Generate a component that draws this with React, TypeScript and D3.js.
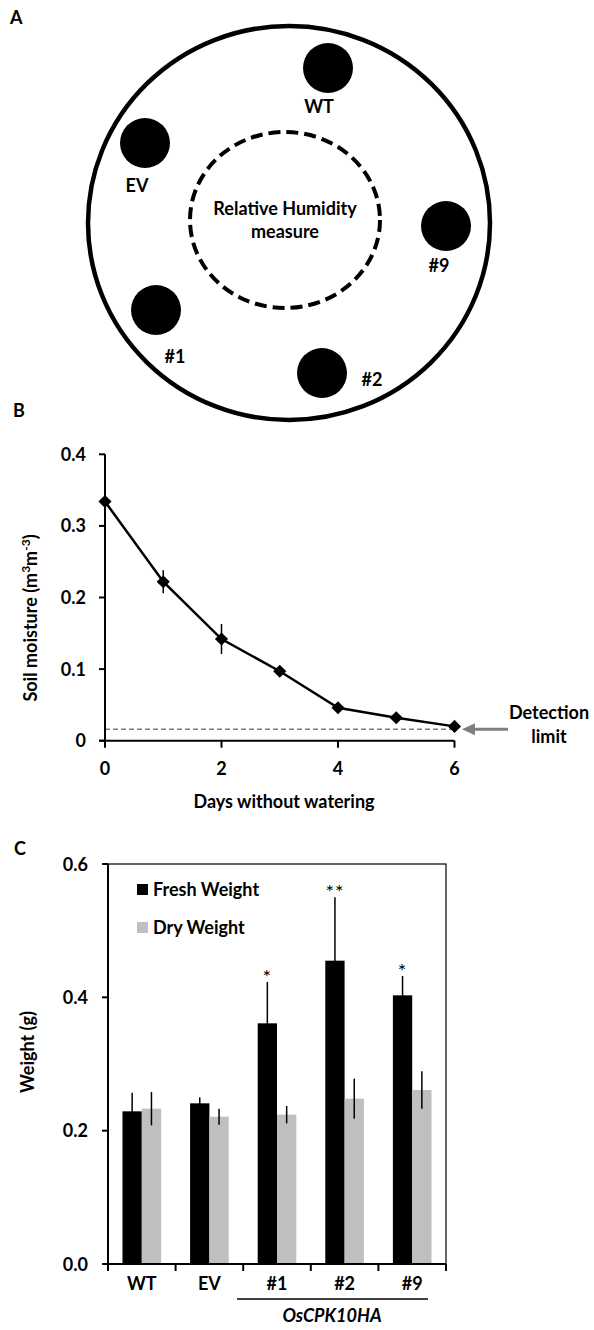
import * as d3 from 'd3';

// Panel A layout (positions of pots around the chamber)
const potLabels = ['WT', 'EV', '#9', '#1', '#2'];
const potX = [328, 145, 446, 156, 322];
const potY = [68, 143, 226, 310, 373];
const potLabelX = [319, 137, 439, 175, 372];
const potLabelY = [113, 192, 272, 363, 386];

// Panel B data
const days = [0, 1, 2, 3, 4, 5, 6];
const moisture = [0.334, 0.222, 0.142, 0.097, 0.046, 0.032, 0.020];
const moistureErr = [0.004, 0.016, 0.021, 0.004, 0.003, 0.002, 0.002];
const detectionLimit = 0.016;
const dayTicks = [0, 2, 4, 6];
const moistureTicks = [0, 0.1, 0.2, 0.3, 0.4];

// Panel C data
const lines = ['WT', 'EV', '#1', '#2', '#9'];
const freshWeight = [0.229, 0.241, 0.361, 0.455, 0.403];
const freshErr = [0.028, 0.009, 0.062, 0.095, 0.029];
const dryWeight = [0.233, 0.221, 0.224, 0.248, 0.261];
const dryErr = [0.025, 0.012, 0.013, 0.030, 0.028];
const signif = ['', '', '*', '**', '*'];
const weightTicks = [0, 0.2, 0.4, 0.6];

const font = "Lato, 'Open Sans', sans-serif";
const grey = '#bfbfbf';
const fs = 18;

export default function App() {
  // Panel B scales
  const xB = d3.scaleLinear().domain([0, 6]).range([105, 454.5]);
  const yB = d3.scaleLinear().domain([0, 0.4]).range([740.7, 454.3]);
  const line = d3.line<number>()
    .x((d, i) => xB(days[i]))
    .y(d => yB(d));
  const diamond = d3.symbol().type(d3.symbolDiamond2).size(110)();

  // Panel C scales
  const xC = d3.scaleBand().domain(lines).range([108, 446]);
  const sub = d3.scaleBand().domain(['fresh', 'dry']).range([0, xC.bandwidth()]).paddingOuter(0.75);
  const yC = d3.scaleLinear().domain([0, 0.6]).range([1264, 864]);

  return (
    <svg width={594} height={1330} style={{ position: 'absolute', left: 0, top: 0, background: '#fff' }}
      fontFamily={font} fontWeight="bold" fill="#000">
      {/* ---------- Panel A ---------- */}
      <text x={10} y={24} fontSize={fs}>A</text>
      <ellipse cx={289} cy={223} rx={201} ry={197} fill="none" stroke="#000" strokeWidth={4.5} />
      <ellipse cx={285} cy={220} rx={95} ry={88} fill="none" stroke="#000" strokeWidth={4}
        strokeDasharray="12 6" />
      <text x={285} y={215} fontSize={fs} textAnchor="middle">Relative Humidity</text>
      <text x={285} y={238} fontSize={fs} textAnchor="middle">measure</text>
      {potLabels.map((p, i) => (
        <g key={p}>
          <circle cx={potX[i]} cy={potY[i]} r={25} fill="#000" />
          <text x={potLabelX[i]} y={potLabelY[i]} fontSize={fs} textAnchor="middle">{p}</text>
        </g>
      ))}

      {/* ---------- Panel B ---------- */}
      <text x={13} y={417} fontSize={fs}>B</text>
      <line x1={xB(0)} x2={xB(6)} y1={yB(detectionLimit)} y2={yB(detectionLimit)}
        stroke="#7f7f7f" strokeWidth={1.5} strokeDasharray="5 3" />
      <line x1={xB(0)} x2={xB(0)} y1={yB(0.4)} y2={yB(0)} stroke="#000" strokeWidth={2} />
      <line x1={xB(0) - 6} x2={xB(6)} y1={yB(0)} y2={yB(0)} stroke="#000" strokeWidth={2} />
      {moistureTicks.map(t => (
        <g key={t}>
          <line x1={xB(0) - 6} x2={xB(0)} y1={yB(t)} y2={yB(t)} stroke="#000" strokeWidth={2} />
          <text x={86} y={yB(t) + 6.5} fontSize={fs} textAnchor="end">{t === 0 ? '0' : d3.format('.1f')(t)}</text>
        </g>
      ))}
      {dayTicks.map(t => (
        <g key={t}>
          <line x1={xB(t)} x2={xB(t)} y1={yB(0)} y2={yB(0) + 7} stroke="#000" strokeWidth={2} />
          <text x={xB(t)} y={775} fontSize={fs} textAnchor="middle">{t}</text>
        </g>
      ))}
      <text x={284} y={808} fontSize={fs} textAnchor="middle">Days without watering</text>
      <text transform={`translate(37,618) rotate(-90)`} fontSize={fs} textAnchor="middle">
        Soil moisture (m<tspan dy={-7} fontSize={12}>3</tspan><tspan dy={7}>m</tspan>
        <tspan dy={-7} fontSize={12}>-3</tspan><tspan dy={7}>)</tspan>
      </text>
      {moisture.map((m, i) => (
        <line key={i} x1={xB(days[i])} x2={xB(days[i])} y1={yB(m + moistureErr[i])} y2={yB(m - moistureErr[i])}
          stroke="#000" strokeWidth={1.5} />
      ))}
      <path d={line(moisture) ?? ''} fill="none" stroke="#000" strokeWidth={2.5} />
      {moisture.map((m, i) => (
        <path key={i} d={diamond ?? ''} transform={`translate(${xB(days[i])},${yB(m)})`} fill="#000" />
      ))}
      <line x1={508} x2={472} y1={yB(detectionLimit)} y2={yB(detectionLimit)} stroke="#7f7f7f" strokeWidth={3} />
      <path d={`M462,${yB(detectionLimit)} L475,${yB(detectionLimit) - 6} L475,${yB(detectionLimit) + 6} Z`}
        fill="#7f7f7f" />
      <text x={549} y={719} fontSize={fs} textAnchor="middle">Detection</text>
      <text x={549} y={743} fontSize={fs} textAnchor="middle">limit</text>

      {/* ---------- Panel C ---------- */}
      <text x={14} y={855} fontSize={fs}>C</text>
      {lines.map((l, i) => {
        const x0 = xC(l) ?? 0;
        const xf = x0 + (sub('fresh') ?? 0);
        const xd = x0 + (sub('dry') ?? 0);
        const bw = sub.bandwidth();
        return (
          <g key={l}>
            <rect x={xf} y={yC(freshWeight[i])} width={bw} height={yC(0) - yC(freshWeight[i])} fill="#000" />
            <rect x={xd} y={yC(dryWeight[i])} width={bw} height={yC(0) - yC(dryWeight[i])} fill={grey} />
            <line x1={xf + bw / 2} x2={xf + bw / 2} y1={yC(freshWeight[i] + freshErr[i])}
              y2={yC(freshWeight[i] - freshErr[i])} stroke="#000" strokeWidth={1.5} />
            <line x1={xd + bw / 2} x2={xd + bw / 2} y1={yC(dryWeight[i] + dryErr[i])}
              y2={yC(dryWeight[i] - dryErr[i])} stroke="#000" strokeWidth={1.5} />
            {/* opacity forces greyscale antialiasing on the thin asterisks */}
            <g opacity={0.999}>
              <text x={xf + bw / 2} y={yC(freshWeight[i] + freshErr[i]) + 2} fontSize={20} fontWeight="normal"
                textAnchor="middle" fill="#000" letterSpacing={1}>{signif[i]}</text>
            </g>
            <text x={x0 + xC.bandwidth() / 2} y={1290} fontSize={fs} textAnchor="middle">{l}</text>
          </g>
        );
      })}
      <rect x={108} y={yC(0.6)} width={338} height={yC(0) - yC(0.6)} fill="none" stroke="#000" strokeWidth={1.2} />
      <line x1={108} x2={108} y1={yC(0.6)} y2={yC(0)} stroke="#000" strokeWidth={2} />
      <line x1={102} x2={446} y1={yC(0)} y2={yC(0)} stroke="#000" strokeWidth={2} />
      {weightTicks.map(t => (
        <g key={t}>
          <line x1={102} x2={108} y1={yC(t)} y2={yC(t)} stroke="#000" strokeWidth={2} />
          <text x={88} y={yC(t) + 6.5} fontSize={fs} textAnchor="end">{d3.format('.1f')(t)}</text>
        </g>
      ))}
      {[...lines.map(l => xC(l) ?? 0), 446].map((x, i) => (
        <line key={i} x1={x} x2={x} y1={yC(0)} y2={yC(0) + 7} stroke="#000" strokeWidth={2} />
      ))}
      <text transform={`translate(34,1052) rotate(-90)`} fontSize={fs} textAnchor="middle">Weight (g)</text>
      <rect x={137} y={884} width={11} height={11} fill="#000" />
      <text x={153} y={896} fontSize={fs}>Fresh Weight</text>
      <rect x={137} y={922} width={11} height={11} fill={grey} />
      <text x={153} y={934} fontSize={fs}>Dry Weight</text>
      <line x1={237} x2={428} y1={1299} y2={1299} stroke="#000" strokeWidth={1.5} />
      <text x={332} y={1322} fontSize={fs} fontStyle="italic" textAnchor="middle">OsCPK10HA</text>
    </svg>
  );
}
